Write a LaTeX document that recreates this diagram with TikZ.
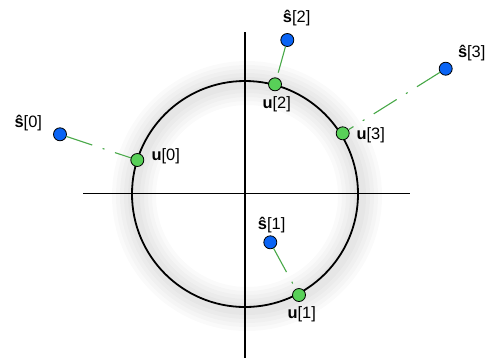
\documentclass[tikz,border=0pt]{standalone}
\usepackage{fontspec}
\setmainfont{Liberation Sans}
\definecolor{dotblue}{HTML}{0A64F5}
\definecolor{dotgreen}{HTML}{58D058}
\definecolor{linkgreen}{HTML}{48A848}
\tikzset{
  sdot/.style={circle, draw=black, fill=dotblue, line width=0.8bp, inner sep=0pt, minimum size=13bp},
  udot/.style={sdot, fill=dotgreen},
  link/.style={linkgreen, line width=1.1bp, dash pattern=on 27bp off 11bp on 2bp off 11bp},
  lbl/.style={font=\fontsize{16.5}{19}\selectfont, inner sep=0pt}
}
\begin{document}
\begin{tikzpicture}[x=1bp, y=-1bp]
    \useasboundingbox (0,0) rectangle (487,359);
    \def\r{113}

    % soft glow round the circle
    \foreach \w in {44,36,28,20,12}
      \draw[black, opacity=0.018, line width=\w bp] (247,196) circle (\r);

    \draw[line width=1.8bp] (83,193.5) -- (410,193.5);
    \draw[line width=1.8bp] (245,32) -- (245,358);
    \draw[line width=1.8bp] (245,194) circle (\r);

    \node[sdot] (s0) at (60,134.3) {};
    \node[sdot] (s1) at (270.3,242.3) {};
    \node[sdot] (s2) at (287.3,40) {};
    \node[sdot] (s3) at (445.7,68.7) {};

    \node[udot] (u0) at (137.3,160) {};
    \node[udot] (u1) at (299,295) {};
    \node[udot] (u2) at (275,84.3) {};
    \node[udot] (u3) at (342.7,133.3) {};

    \draw[link] (s0) -- (u0);
    \draw[link] (s1) -- (u1);
    \draw[link] (s2) -- (u2);
    \draw[link] (s3) -- (u3);

    \node[lbl] (ls0) at (28.3,122.7) {\textbf{ŝ}[0]};
    \node[lbl] (ls1) at (271.7,225) {\textbf{ŝ}[1]};
    \node[lbl] (ls2) at (296.7,18.3) {\textbf{ŝ}[2]};
    \node[lbl] (ls3) at (471.7,53) {\textbf{ŝ}[3]};

    \node[lbl] (lu0) at (165.7,156.7) {\textbf{u}[0]};
    \node[lbl] (lu1) at (301.7,314) {\textbf{u}[1]};
    \node[lbl] (lu2) at (276.7,104) {\textbf{u}[2]};
    \node[lbl] (lu3) at (370.7,135) {\textbf{u}[3]};
\end{tikzpicture}
\end{document}
